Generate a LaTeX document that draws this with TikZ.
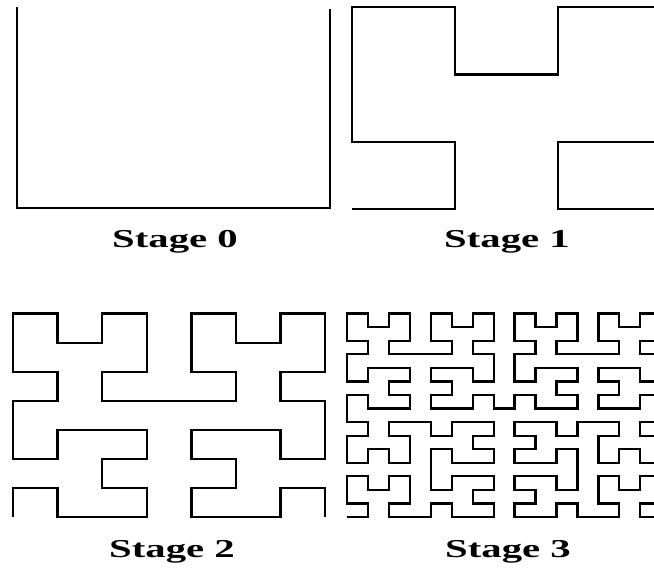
\documentclass[tikz,border=0pt]{standalone}
\usepackage{fontspec}
\setmainfont{Liberation Serif}
\usetikzlibrary{lindenmayersystems}
\pgfdeclarelindenmayersystem{Hilbert}{
  \rule{A -> +BF-AFA-FB+}
  \rule{B -> -AF+BFB+FA-}
}
\tikzset{
  curve/.style={line width=1.9pt,line join=miter},
  hilb/.style={lindenmayer system={Hilbert,axiom=A,order=#1,step=0.03cm,angle=90}},
  stagelab/.style={font=\fontsize{22}{26}\selectfont\bfseries,anchor=base,xscale=1.58,transform shape},
}
\begin{document}
\begin{tikzpicture}[x=0.03cm,y=0.03cm]
  \useasboundingbox (0,0) rectangle (654,569);
  \clip (0,0) rectangle (654,569);

  % Stage 0
  \draw[curve] (17,562) -- (17,361) -- (330,361) -- (330,560);
  \node[stagelab] (lab0) at (175,321) {Stage 0};

  % Stage 1
  \begin{scope}[shift={(352,360)},xscale=103,yscale=67.3]
  \draw[curve] (0,0) lindenmayer system[hilb=2];
  \end{scope}
  \node[stagelab] (lab1) at (507,321) {Stage 1};

  % Stage 2
  \begin{scope}[shift={(13,52)},xscale=44.6,yscale=29.06]
  \draw[curve] (0,0) lindenmayer system[hilb=3];
  \end{scope}
  \node[stagelab] (lab2) at (172,11) {Stage 2};

  % Stage 3
  \begin{scope}[shift={(347,52)},xscale=20.95,yscale=13.56]
  \draw[curve] (0,0) lindenmayer system[hilb=4];
  \end{scope}
  \node[stagelab] (lab3) at (508,11) {Stage 3};
\end{tikzpicture}
\end{document}
